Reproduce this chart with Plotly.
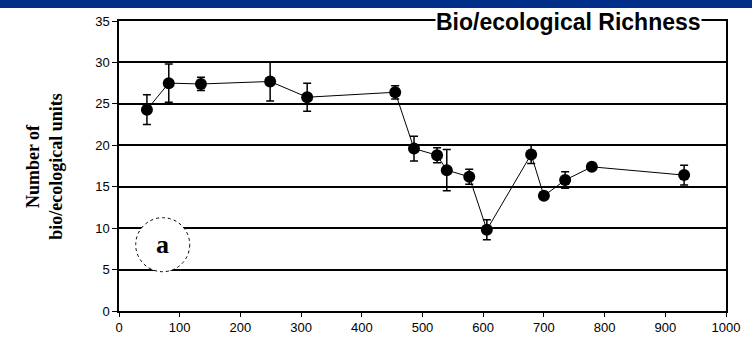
import plotly.graph_objects as go

distance = [46, 82, 135, 249, 310, 455, 486, 524, 540, 577, 606, 679, 700, 735, 779, 931]
richness = [24.3, 27.5, 27.4, 27.7, 25.8, 26.4, 19.6, 18.8, 17.0, 16.2, 9.8, 18.9, 13.9, 15.8, 17.4, 16.4]
err = [1.8, 2.3, 0.8, 2.35, 1.7, 0.8, 1.5, 0.9, 2.5, 0.9, 1.2, 1.1, 0.0, 1.0, 0.3, 1.2]

x_ticks = [0, 100, 200, 300, 400, 500, 600, 700, 800, 900, 1000]
y_ticks = [0, 5, 10, 15, 20, 25, 30, 35]

fig = go.Figure()
fig.add_trace(go.Scatter(
    x=distance, y=richness, mode="lines+markers",
    line=dict(color="black", width=1),
    marker=dict(symbol="circle", size=12, color="black"),
    error_y=dict(type="data", array=err, visible=True, color="black", thickness=1.5, width=4),
    showlegend=False,
))

fig.update_layout(
    width=752, height=347,
    margin=dict(l=119, r=26, t=21, b=33),
    paper_bgcolor="white", plot_bgcolor="white",
    font=dict(family="Liberation Sans, Arial, sans-serif", size=13, color="black"),
    xaxis=dict(range=[0, 1000], tickvals=x_ticks, ticks="outside", ticklen=4, tickcolor="black",
               showline=True, linecolor="black", linewidth=1.5, mirror=True,
               showgrid=False, zeroline=False, tickfont=dict(size=13)),
    yaxis=dict(range=[0, 35], tickvals=y_ticks, ticks="outside", ticklen=5, tickcolor="black",
               showline=True, linecolor="black", linewidth=1.5, mirror=True,
               showgrid=True, gridcolor="black", gridwidth=1.5, zeroline=False,
               tickfont=dict(size=13)),
)

# top blue band
fig.add_shape(type="rect", xref="paper", yref="paper", x0=-0.25, x1=1.1, y0=1.045, y1=1.2,
              fillcolor="#002F8A", line=dict(width=0), layer="above")

# title on the top frame
fig.add_annotation(xref="paper", yref="paper", x=0.96, y=0.997, xanchor="right", yanchor="middle",
                   text="<b>Bio/ecological Richness</b>", showarrow=False, bgcolor="white",
                   font=dict(family="Liberation Sans, Arial, sans-serif", size=23, color="black"),
                   borderpad=0)

# y-axis title
fig.add_annotation(xref="paper", yref="paper", x=-0.124, y=0.5, xanchor="center", yanchor="middle",
                   text="<b>Number of<br>bio/ecological units</b>", showarrow=False, textangle=-90,
                   font=dict(family="Liberation Serif, Times New Roman, serif", size=18, color="black"))

# circled label
fig.add_shape(type="circle", xref="x", yref="y", xsizemode="pixel", ysizemode="pixel",
              xanchor=72, yanchor=8, x0=-27, x1=27, y0=-27, y1=27,
              fillcolor="white", line=dict(color="black", width=1, dash="dot"), layer="above")
fig.add_annotation(x=72, y=8, xref="x", yref="y", text="<b>a</b>", showarrow=False,
                   font=dict(family="Liberation Serif, Times New Roman, serif", size=26, color="black"))

fig.write_html("out.html")
